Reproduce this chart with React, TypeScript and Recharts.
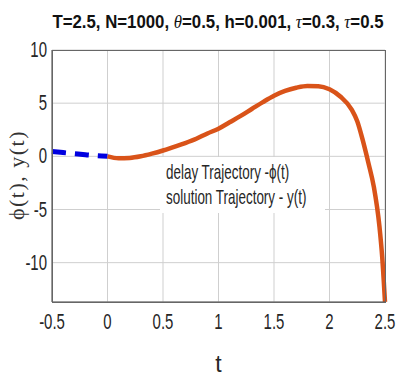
import { LineChart, Line, XAxis, YAxis, CartesianGrid, Legend } from "recharts";

// delay trajectory phi(t) on [-tau, 0]
const delayT = [-0.5, -0.4, -0.3, -0.2, -0.1, 0];
const delayVals = [0.45, 0.35, 0.25, 0.15, 0.06, 0];

// solution trajectory y(t) on [0, T]
const solT = [0, 0.1, 0.2, 0.3, 0.4, 0.5, 0.6, 0.7, 0.8, 0.9, 1.0, 1.1, 1.2, 1.3, 1.4, 1.5, 1.6, 1.7, 1.8, 1.9, 2.0, 2.1, 2.2, 2.25, 2.3, 2.35, 2.4, 2.45, 2.475, 2.5];
const solVals = [0, -0.18, -0.15, 0, 0.25, 0.55, 0.9, 1.25, 1.65, 2.15, 2.6, 3.2, 3.8, 4.45, 5.1, 5.7, 6.15, 6.45, 6.62, 6.6, 6.3, 5.6, 4.4, 3.3, 1.5, -0.6, -2.9, -6.6, -9.5, -13.7];

const xTicks = [-0.5, 0, 0.5, 1, 1.5, 2, 2.5];
const yTicks = [-10, -5, 0, 5, 10];

// one table on the shared t axis; t=0 is in both series
const rows: { t: number; phi?: number; y?: number }[] = delayT.map((t, i) => ({ t, phi: delayVals[i] }));
solT.forEach((t, i) => {
    const hit = rows.find((r) => r.t === t);
    if (hit) hit.y = solVals[i];
    else rows.push({ t, y: solVals[i] });
});

const W = 411;
const H = 377;
const M = { top: 50, right: 26, bottom: 35, left: 0 };
const Y_AXIS_W = 52;
const X_AXIS_H = 40;

const BLUE = "#0000e0";
const ORANGE = "#d95319";
const FONT = "'Liberation Sans', Arial, sans-serif";
const SERIF = "'Liberation Serif', 'Times New Roman', serif";

const XTick = (props: any) => {
    const { x, y, payload } = props;
    return (
        <g transform={`translate(${x},${y})`}>
            <text textAnchor="middle" dy={19} fontSize={22} fontFamily={FONT} fill="#262626" transform="scale(0.68,1)">
                {payload.value}
            </text>
        </g>
    );
};

const YTick = (props: any) => {
    const { x, y, payload } = props;
    return (
        <g transform={`translate(${x + 3},${y})`}>
            <text textAnchor="end" dy={7} fontSize={22} fontFamily={FONT} fill="#262626" transform="scale(0.68,1)">
                {payload.value}
            </text>
        </g>
    );
};

const YLabel = (props: any) => {
    const { viewBox } = props;
    const cy = viewBox.y + viewBox.height / 2 - 1;
    return (
        <text x={16} y={cy} transform={`rotate(-90, 16, ${cy})`} textAnchor="middle" dominantBaseline="central" fontSize={22} fontFamily={SERIF} fill="#333" letterSpacing={1.5}>
            ϕ(t), y(t)
        </text>
    );
};

const LegendBox = (props: any) => {
    const items = props.payload || [];
    return (
        <div style={{ background: "#fff", padding: "2px 6px 4px 5px", width: 154 }}>
            {items.map((it: any) => (
                <div key={it.value} style={{ display: "flex", alignItems: "center", height: 25 }}>
                    <div style={{ width: 12, height: 4, background: it.color, marginRight: 1 }} />
                    <div style={{ fontFamily: FONT, fontSize: 21, color: "#262626", whiteSpace: "nowrap", transform: "scaleX(0.64)", transformOrigin: "left center" }}>
                        {it.value}
                    </div>
                </div>
            ))}
        </div>
    );
};

const italic = { fontStyle: "italic" as const, fontWeight: "normal" as const, fontFamily: SERIF };

export default function App() {
    const boxX = M.left + Y_AXIS_W;
    const boxW = W - M.left - M.right - Y_AXIS_W;
    const boxH = H - M.top - M.bottom - X_AXIS_H;
    return (
        <div style={{ position: "absolute", left: 0, top: 0, width: W, height: H, background: "#fff" }}>
            <LineChart width={W} height={H} data={rows} margin={M}>
                <CartesianGrid stroke="#cfcfcf" strokeWidth={1} />
                <XAxis
                    dataKey="t"
                    type="number"
                    domain={[-0.5, 2.5]}
                    ticks={xTicks}
                    height={X_AXIS_H}
                    tickLine={false}
                    axisLine={{ stroke: "#555" }}
                    tick={<XTick />}
                    label={{ value: "t", position: "insideBottom", offset: -30, fontSize: 23, fontFamily: FONT, fill: "#262626" }}
                />
                <YAxis
                    type="number"
                    domain={[-13.7, 10]}
                    ticks={yTicks}
                    width={Y_AXIS_W}
                    tickLine={false}
                    axisLine={{ stroke: "#555" }}
                    tick={<YTick />}
                    label={<YLabel />}
                    allowDataOverflow
                />
                <Line
                    dataKey="phi"
                    name="delay Trajectory -ϕ(t)"
                    type="monotone"
                    stroke={BLUE}
                    strokeWidth={5}
                    strokeDasharray="14 9"
                    dot={false}
                    isAnimationActive={false}
                />
                <Line
                    dataKey="y"
                    name="solution Trajectory - y(t)"
                    type="monotone"
                    stroke={ORANGE}
                    strokeWidth={4.5}
                    dot={false}
                    isAnimationActive={false}
                />
                <Legend
                    content={<LegendBox />}
                    layout="vertical"
                    align="center"
                    verticalAlign="middle"
                    wrapperStyle={{ position: "absolute", left: 160, top: 157, width: 165 }}
                />
            </LineChart>
            <svg width={W} height={H} style={{ position: "absolute", left: 0, top: 0, pointerEvents: "none" }}>
                <text x={218} y={28} textAnchor="middle" fontSize={18} fontWeight="bold" fontFamily={FONT} fill="#111" textLength={331} lengthAdjust="spacingAndGlyphs">
                    T=2.5, N=1000, <tspan {...italic}>θ</tspan>=0.5, h=0.001, <tspan {...italic}>τ</tspan>=0.3, <tspan {...italic}>τ</tspan>=0.5
                </text>
                {/* axes box frame */}
                <rect x={boxX + 0.5} y={M.top + 0.5} width={boxW} height={boxH} fill="none" stroke="#666" strokeWidth={1} />
            </svg>
        </div>
    );
}
